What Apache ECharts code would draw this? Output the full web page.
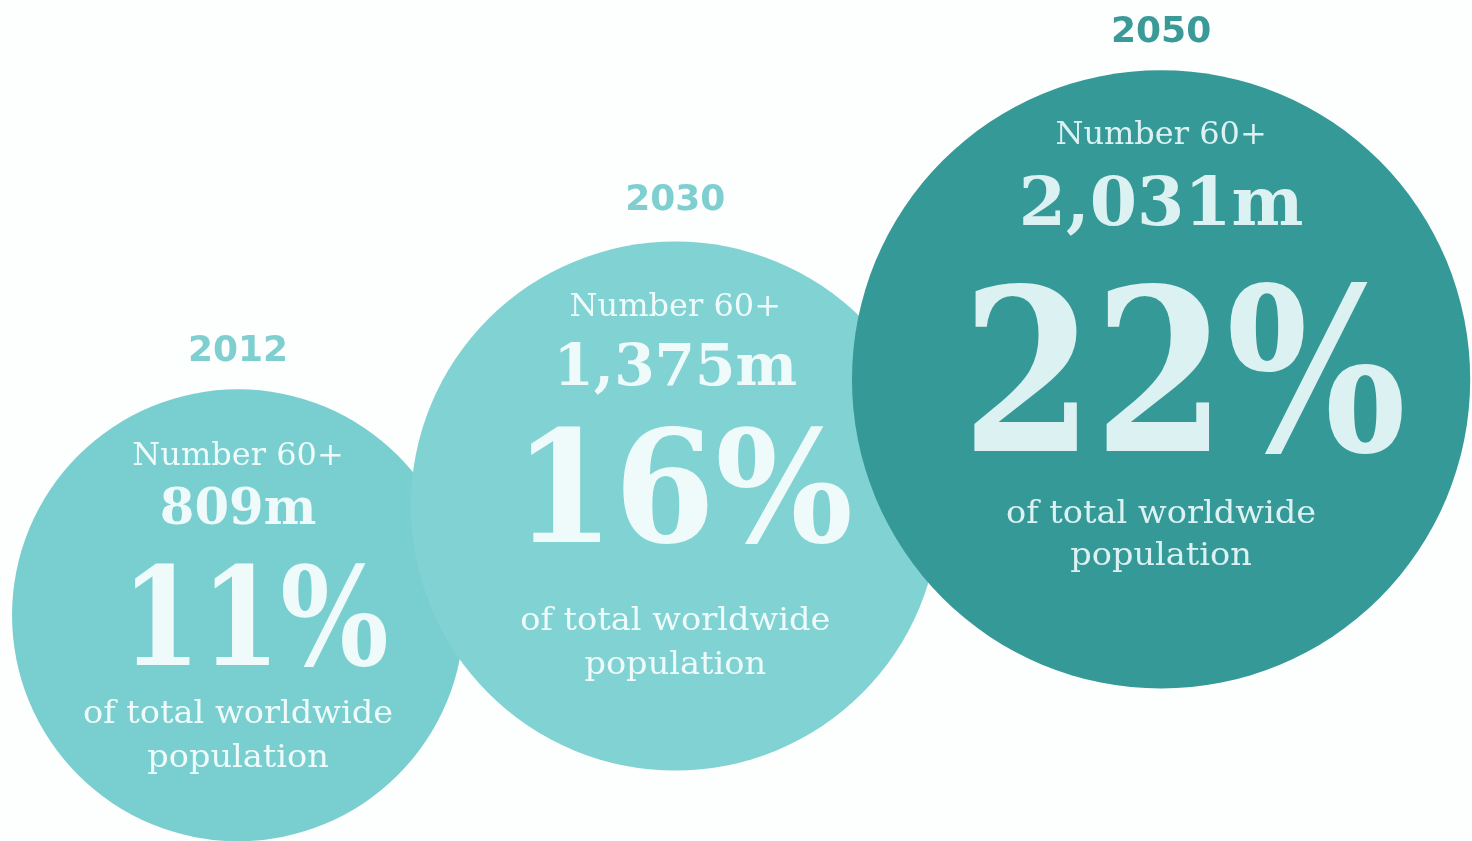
<!DOCTYPE html>
<html>
<head>
<meta charset="utf-8">
<script src="https://cdn.jsdelivr.net/npm/echarts@6/dist/echarts.min.js"></script>
<style>
  html, body { margin: 0; padding: 0; background: #fdfefe; }
  #chart { width: 1472px; height: 841px; }
</style>
</head>
<body>
<div id="chart"></div>
<script>
// ---- data ----
const years = ['2012', '2030', '2050'];
const yearValues = [2012, 2030, 2050];
const number60Plus = [809, 1375, 2031];          // millions
const number60Labels = ['809m', '1,375m', '2,031m'];
const shareOfTotal = [11, 16, 22];              // percent
const lineTop = 'Number 60+';
const lineBottom1 = 'of total worldwide';
const lineBottom2 = 'population';

// ---- styles ----
const fills = ['#79cecf', '#81d2d3', '#349997'];
const yearColors = ['#7fcfd0', '#7fcfd0', '#3a9a98'];
const textColors = ['#effafa', '#effafa', '#dcf1f1'];
const bigFont = [136, 156, 226];
const bigShiftX = [17, 8, 23];
const bigShiftY = [14, -5, 13];
const bigScaleX = [0.84, 0.93, 0.84];
const serif = '"DejaVu Serif", serif';
const sans = '"DejaVu Sans", sans-serif';

function radiusOf(v) { return 171 + 0.068 * v; }

const chart = echarts.init(document.getElementById('chart'));

function txt(cx, cy, text, dx, dy, size, weight, family, color, sx) {
  return {
    type: 'text',
    x: cx + dx, y: cy + dy,
    scaleX: sx || 1,
    style: {
      text: text, x: 0, y: 0,
      align: 'center', verticalAlign: 'middle',
      fontSize: size, fontWeight: weight, fontFamily: family,
      fill: color
    }
  };
}

chart.setOption({
  backgroundColor: '#fdfefe',
  animation: false,
  grid: { left: 0, right: 0, top: 0, bottom: 0 },
  xAxis: { type: 'value', min: 2002.2, max: 2062.8, show: false },
  yAxis: { type: 'value', min: -360, max: 3996, show: false },
  series: [{
    type: 'custom',
    data: yearValues.map((y, i) => [y, number60Plus[i], shareOfTotal[i]]),
    renderItem: function (params, api) {
      const i = params.dataIndex;
      const c = api.coord([api.value(0), api.value(1)]);
      const cx = c[0], cy = c[1];
      const r = radiusOf(api.value(1));
      const col = textColors[i];
      return {
        type: 'group',
        children: [
          { type: 'circle', shape: { cx: cx, cy: cy, r: r }, style: { fill: fills[i] } },
          txt(cx, cy, years[i], 0, -(r + 38) - (i === 1 ? 3 : 0), 36, 'bold', sans, yearColors[i]),
          txt(cx, cy, lineTop, 0, 73 - 1.024 * r, 32, 'normal', serif, col, 1.0),
          txt(cx, cy, number60Labels[i], 0, 81 - 0.82 * r, 0.22 * r, 'bold', serif, col, 1.0),
          txt(cx, cy, api.value(2) + '%', bigShiftX[i], bigShiftY[i], bigFont[i], 'bold', serif, col, bigScaleX[i]),
          txt(cx, cy, lineBottom1, 0, 1 + 0.434 * r, 32, 'normal', serif, col, 1.05),
          txt(cx, cy, lineBottom2, 0, 51 + 0.41 * r, 32, 'normal', serif, col, 1.05)
        ]
      };
    }
  }]
});
</script>
</body>
</html>
